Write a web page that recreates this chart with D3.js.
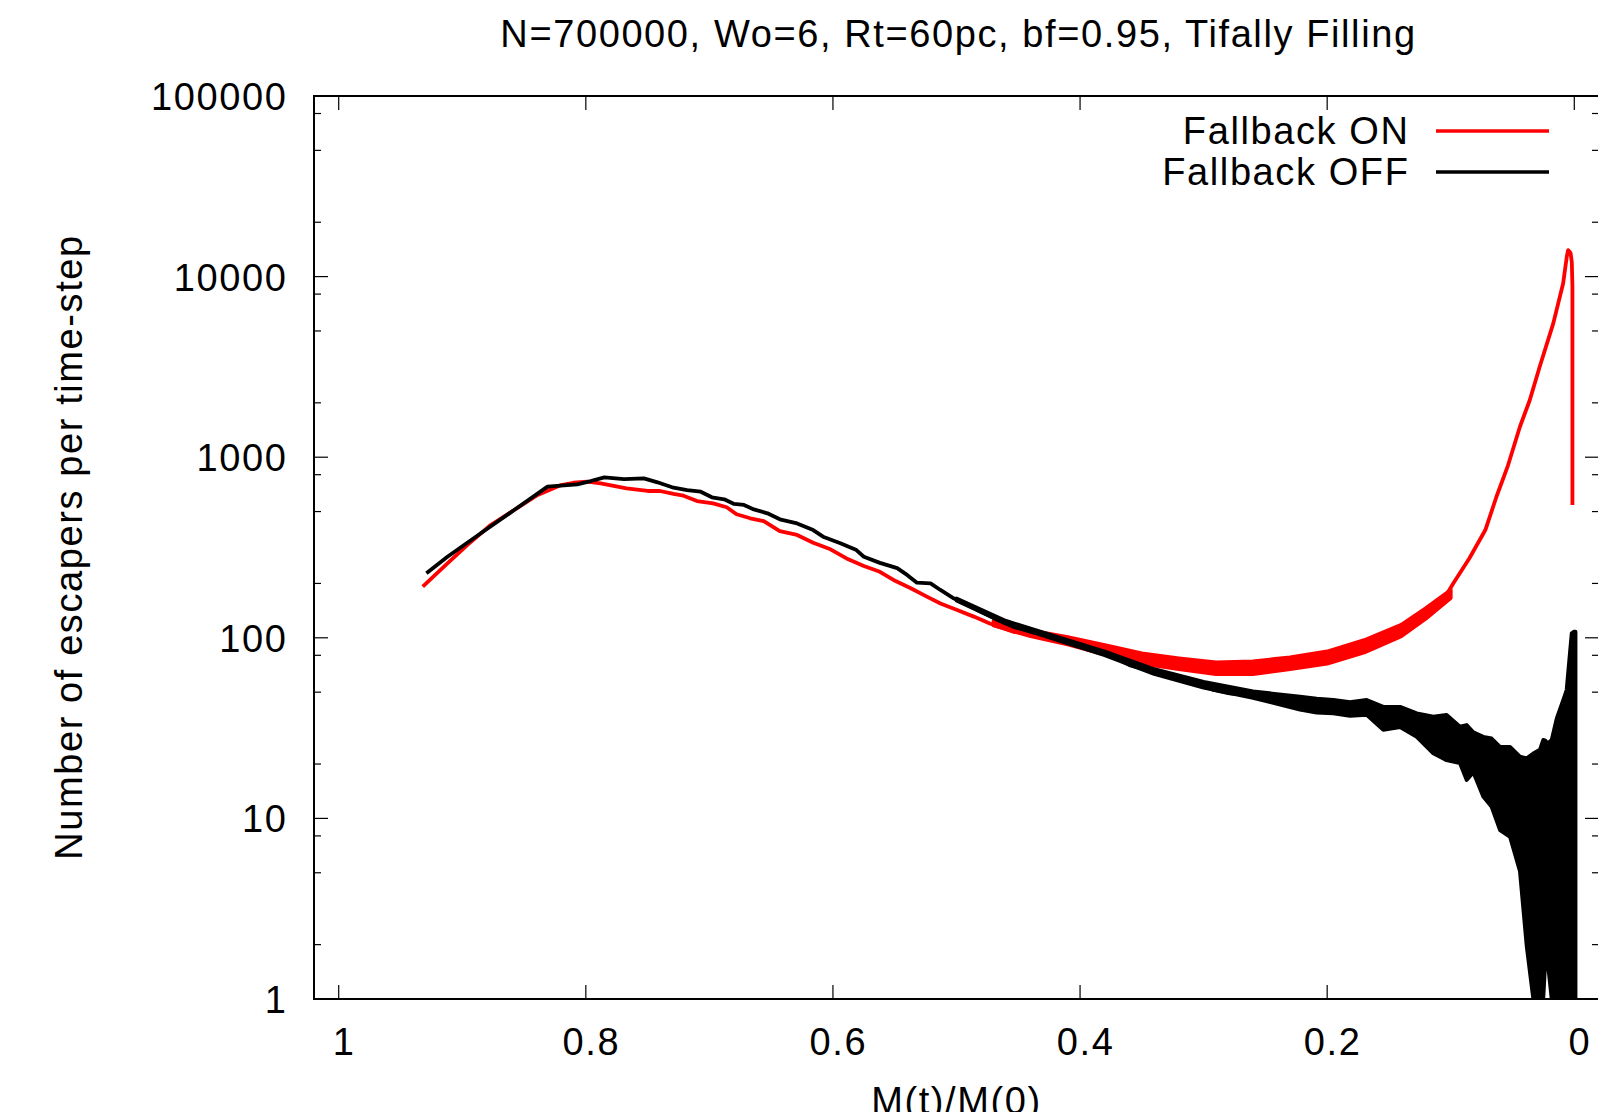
<!DOCTYPE html>
<html><head><meta charset="utf-8">
<script src="https://cdn.jsdelivr.net/npm/d3@7"></script>
<style>html,body{margin:0;padding:0;background:#fff;overflow:hidden}</style>
</head><body>
<svg id="chart" width="1598" height="1112" xmlns="http://www.w3.org/2000/svg"></svg>
<script>
// ---------------- data ----------------
const titleText = "N=700000, Wo=6, Rt=60pc, bf=0.95, Tifally Filling";
const xLabel = "M(t)/M(0)";
const yLabel = "Number of escapers per time-step";
const seriesNames = ["Fallback ON", "Fallback OFF"];
const seriesColors = ["#ff0000", "#000000"];
const xTicks = [1, 0.8, 0.6, 0.4, 0.2, 0];
const xTickLabels = ["1", "0.8", "0.6", "0.4", "0.2", "0"];
const yTicks = [1, 10, 100, 1000, 10000, 100000];
const yTickLabels = ["1", "10", "100", "1000", "10000", "100000"];
const yMinorFactors = [2, 5, 8];

// Fallback ON (red)
const onX = [0.932, 0.912, 0.896, 0.877, 0.858, 0.839, 0.820, 0.810, 0.799, 0.788, 0.767, 0.750, 0.740, 0.729, 0.721, 0.710, 0.697, 0.686, 0.678, 0.667, 0.656, 0.643, 0.629, 0.616, 0.602, 0.589, 0.575, 0.562, 0.551, 0.537, 0.524, 0.513, 0.500, 0.486, 0.473, 0.454, 0.432, 0.413, 0.395, 0.373, 0.357, 0.333, 0.306, 0.292, 0.265, 0.252, 0.238, 0.222, 0.206, 0.195, 0.168, 0.141, 0.120, 0.106, 0.098, 0.085, 0.072, 0.063, 0.054, 0.044, 0.036, 0.028, 0.017, 0.009, 0.006, 0.005, 0.004, 0.003, 0.002, 0.0015, 0.0015];
const onY = [192, 258, 326, 421, 510, 618, 701, 722, 732, 717, 673, 650, 650, 626, 612, 572, 555, 528, 483, 459, 443, 390, 371, 336, 309, 275, 250, 232, 209, 188, 169, 155, 143, 131, 120, 108, 104, 95, 89, 84, 78.6, 73.8, 70.7, 67.7, 67.7, 70.7, 72.3, 74, 76, 80, 91, 110, 137, 162, 200, 275, 395, 604, 886, 1475, 2073, 3170, 5510, 9180, 13000, 14000, 13800, 13500, 12000, 8800, 543];
// noise envelope of Fallback ON
const onBandX  = [0.47, 0.44, 0.41, 0.38, 0.35, 0.32, 0.29, 0.26, 0.23, 0.20, 0.17, 0.14, 0.12, 0.10];
const onBandLo = [117, 102, 92, 81, 72, 67, 63, 63, 67, 72, 83, 102, 128, 166];
const onBandHi = [124, 110, 101, 91, 82, 77, 73, 74, 78, 84, 97, 118, 146, 184];

// Fallback OFF (black)
const offX = [0.929, 0.912, 0.885, 0.858, 0.831, 0.807, 0.796, 0.785, 0.769, 0.753, 0.742, 0.729, 0.718, 0.707, 0.698, 0.688, 0.680, 0.672, 0.664, 0.653, 0.643, 0.629, 0.616, 0.608, 0.594, 0.581, 0.575, 0.562, 0.548, 0.540, 0.532, 0.521, 0.513, 0.502, 0.492, 0.481, 0.467, 0.454, 0.440, 0.427, 0.413, 0.400, 0.386, 0.373, 0.360, 0.346, 0.333, 0.319, 0.306, 0.292, 0.279, 0.265, 0.252, 0.238, 0.222];
const offY = [228, 281, 379, 510, 687, 708, 738, 774, 757, 764, 726, 678, 658, 644, 600, 585, 551, 544, 514, 489, 453, 430, 395, 363, 334, 306, 281, 260, 243, 223, 202, 200, 184, 165, 155, 140, 126, 115, 108, 104, 97, 91, 84, 78.5, 70.6, 66.3, 62.3, 58.4, 56, 51.4, 49.3, 48.3, 47.2, 45.3, 44];
// noise envelope of Fallback OFF
const offBandX  = [0.50, 0.46, 0.42, 0.38, 0.34, 0.30, 0.26, 0.222, 0.2085, 0.195, 0.1815, 0.168, 0.1546, 0.141, 0.1275, 0.1141, 0.1033, 0.0925, 0.0871, 0.0817, 0.0737, 0.0669, 0.0601, 0.052, 0.044, 0.0385, 0.0332, 0.0278, 0.0251, 0.0235, 0.0215, 0.0183, 0.0142, 0.0089, 0.0062, 0.0021, 0.0004, -0.001];
const offBandLo = [161, 120, 98, 80, 63, 53, 46.5, 40, 38.5, 38.2, 37, 37.4, 30.9, 32, 28.3, 22.9, 21, 20.2, 16.3, 18, 13.2, 11.6, 8.6, 7.9, 5.1, 1.95, 1, 1, 1, 1.6, 1.6, 1, 1, 1, 1, 1, 1, 1];
const offBandHi = [165, 124, 102, 84, 67, 57, 50.5, 47.2, 46, 45.3, 44, 45.3, 41.5, 41.5, 38.2, 36.6, 37.4, 32.2, 32.9, 30, 28.3, 27.7, 24.9, 24.9, 22, 21.5, 22.9, 24, 27.2, 27, 26, 27.2, 35.8, 45.3, 51.4, 106, 108, 108];

// ---------------- layout ----------------
const W = 1598, H = 1112;
const pL = 314, pR = 1599, pT = 96, pB = 999;
const FONT = "'Liberation Sans', Arial, Helvetica, sans-serif";
const FS = 38, LS = 1.6;
const LW = 3.8;

const svg = d3.select("#chart");
svg.append("rect").attr("width", W).attr("height", H).attr("fill", "#fff");

const x = d3.scaleLinear().domain([1.02, -0.02]).range([pL, pR]);
const y = d3.scaleLog().domain([1, 100000]).range([pB, pT]);

svg.append("defs").append("clipPath").attr("id", "plotclip")
  .append("rect").attr("x", pL).attr("y", pT).attr("width", pR - pL).attr("height", pB - pT);

// ticks
const tickG = svg.append("g").attr("stroke", "#000").attr("stroke-width", 1.2);
const majorLen = 14, minorLen = 7;
xTicks.forEach(v => {
  const px = x(v);
  tickG.append("line").attr("x1", px).attr("x2", px).attr("y1", pB).attr("y2", pB - majorLen);
  tickG.append("line").attr("x1", px).attr("x2", px).attr("y1", pT).attr("y2", pT + majorLen);
});
yTicks.forEach((v, i) => {
  const py = y(v);
  tickG.append("line").attr("x1", pL).attr("x2", pL + majorLen).attr("y1", py).attr("y2", py);
  tickG.append("line").attr("x1", pR).attr("x2", pR - majorLen).attr("y1", py).attr("y2", py);
  if (i < yTicks.length - 1) {
    yMinorFactors.forEach(f => {
      const pm = y(v * f);
      tickG.append("line").attr("x1", pL).attr("x2", pL + minorLen).attr("y1", pm).attr("y2", pm);
      tickG.append("line").attr("x1", pR).attr("x2", pR - minorLen).attr("y1", pm).attr("y2", pm);
    });
  }
});

// tick labels
const txt = (sel) => sel.attr("font-family", FONT).attr("font-size", FS).attr("letter-spacing", LS).attr("fill", "#000");
xTicks.forEach((v, i) => {
  svg.append("text").call(txt).attr("x", x(v) + 5.5).attr("y", 1055).attr("text-anchor", "middle").text(xTickLabels[i]);
});
yTicks.forEach((v, i) => {
  svg.append("text").call(txt).attr("x", 287.5).attr("y", y(v) + 14).attr("text-anchor", "end").text(yTickLabels[i]);
});

// data
const plot = svg.append("g").attr("clip-path", "url(#plotclip)");
const lineGen = d3.line().x(d => x(d[0])).y(d => y(d[1]));
const areaGen = d3.area().x(d => x(d[0])).y0(d => y(d[1])).y1(d => y(d[2]));

const onPts = onX.map((v, i) => [v, onY[i]]);
const offPts = offX.map((v, i) => [v, offY[i]]);
const onBand = onBandX.map((v, i) => [v, onBandLo[i], onBandHi[i]]);
const offBand = offBandX.map((v, i) => [v, offBandLo[i], offBandHi[i]]);

plot.append("path").datum(onBand).attr("d", areaGen).attr("fill", seriesColors[0])
  .attr("stroke", seriesColors[0]).attr("stroke-width", LW).attr("stroke-linejoin", "round");
plot.append("path").datum(onPts).attr("d", lineGen).attr("fill", "none")
  .attr("stroke", seriesColors[0]).attr("stroke-width", LW).attr("stroke-linejoin", "round");
plot.append("path").datum(offBand).attr("d", areaGen).attr("fill", seriesColors[1])
  .attr("stroke", seriesColors[1]).attr("stroke-width", LW).attr("stroke-linejoin", "round");
plot.append("path").datum(offPts).attr("d", lineGen).attr("fill", "none")
  .attr("stroke", seriesColors[1]).attr("stroke-width", LW).attr("stroke-linejoin", "round");

// border
svg.append("rect").attr("x", pL).attr("y", pT).attr("width", pR - pL).attr("height", pB - pT)
  .attr("fill", "none").attr("stroke", "#000").attr("stroke-width", 2);

// legend
seriesNames.forEach((name, i) => {
  const by = 144 + i * 41;
  svg.append("text").call(txt).attr("x", 1409.5).attr("y", by).attr("text-anchor", "end").text(name);
  svg.append("line").attr("x1", 1436).attr("x2", 1549).attr("y1", by - 13).attr("y2", by - 13)
    .attr("stroke", seriesColors[i]).attr("stroke-width", 3.5);
});

// titles
svg.append("text").call(txt).attr("x", 958.5).attr("y", 47).attr("text-anchor", "middle").text(titleText);
svg.append("text").call(txt).attr("x", 956.5).attr("y", 1114).attr("text-anchor", "middle").text(xLabel);
svg.append("text").call(txt).attr("text-anchor", "middle")
  .attr("transform", "translate(82,547) rotate(-90)").text(yLabel);
</script>
</body></html>
